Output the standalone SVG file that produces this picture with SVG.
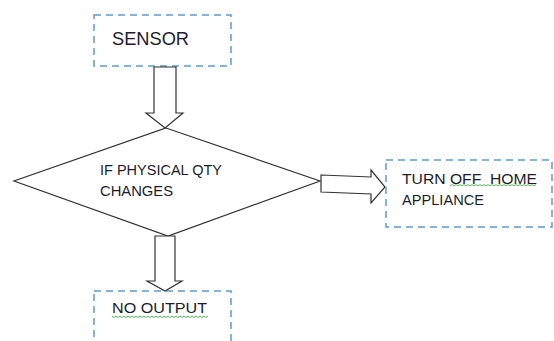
<svg xmlns="http://www.w3.org/2000/svg" width="554" height="341" viewBox="0 0 554 341">
<style>
.box{fill:#fff;stroke:#5b9bd5;stroke-width:1.5;stroke-dasharray:7 5}
.shape{fill:#fff;stroke:#333;stroke-width:1.2;stroke-linejoin:miter}
.t{font-family:"Liberation Sans",Arial,sans-serif;fill:#1c1c2c;font-size:14px}
.sq{fill:none;stroke:#3cb043;stroke-width:0.9}
</style>
<rect width="554" height="341" fill="#fff"/>
<g id="sensor">
<rect class="box" x="94" y="15" width="137" height="51"/>
<text class="t" x="112" y="45" style="font-size:17.5px" textLength="77" lengthAdjust="spacingAndGlyphs">SENSOR</text>
</g>
<g id="decision">
<polygon class="shape" points="166,128 320,181 168,236 14,181"/>
<text class="t" x="100" y="175" textLength="122" lengthAdjust="spacingAndGlyphs">IF PHYSICAL QTY</text>
<text class="t" x="100" y="196" textLength="73" lengthAdjust="spacingAndGlyphs">CHANGES</text>
</g>
<g id="turnoff">
<rect class="box" x="386" y="160" width="166" height="67"/>
<text class="t" x="402" y="184" textLength="135" lengthAdjust="spacingAndGlyphs" xml:space="preserve">TURN OFF  HOME</text>
<text class="t" x="402" y="205" textLength="82" lengthAdjust="spacingAndGlyphs">APPLIANCE</text>
<path class="sq" d="M450,186 l2,-1.5 l2,1.5 l2,-1.5 l2,1.5 l2,-1.5 l2,1.5 l2,-1.5 l2,1.5 l2,-1.5 l2,1.5 l2,-1.5 l2,1.5 l2,-1.5 l2,1.5 l2,-1.5 l2,1.5 l2,-1.5 l2,1.5 l2,-1.5 l2,1.5 l2,-1.5 l2,1.5 l2,-1.5 l2,1.5 l2,-1.5 l2,1.5 l2,-1.5 l2,1.5 l2,-1.5 l2,1.5 l2,-1.5 l2,1.5 l2,-1.5 l2,1.5 l2,-1.5 l2,1.5 l2,-1.5 l2,1.5 l2,-1.5 l2,1.5 l2,-1.5 l2,1.5 l2,-1.5"/>
</g>
<g id="nooutput">
<rect class="box" x="94" y="291" width="137" height="60"/>
<text class="t" x="112" y="313" style="font-size:14.5px" textLength="95" lengthAdjust="spacingAndGlyphs">NO OUTPUT</text>
<path class="sq" d="M112,316 l2,1.5 l2,-1.5 l2,1.5 l2,-1.5 l2,1.5 l2,-1.5 l2,1.5 l2,-1.5 l2,1.5 l2,-1.5 l2,1.5 l2,-1.5 l2,1.5 l2,-1.5 l2,1.5 l2,-1.5 l2,1.5 l2,-1.5 l2,1.5 l2,-1.5 l2,1.5 l2,-1.5 l2,1.5 l2,-1.5 l2,1.5 l2,-1.5 l2,1.5 l2,-1.5 l2,1.5 l2,-1.5 l2,1.5 l2,-1.5 l2,1.5 l2,-1.5 l2,1.5 l2,-1.5 l2,1.5 l2,-1.5 l2,1.5 l2,-1.5 l2,1.5 l2,-1.5 l2,1.5 l2,-1.5 l2,1.5 l2,-1.5 l2,1.5 l2,-1.5"/>
</g>
<g id="connectors">
<polygon class="shape" points="154,67 176,67 176,113 183,113 165,128 146,113 154,113"/>
<polygon class="shape" points="155,236 175,236 175,281 182,281 165,291 147,281 155,281"/>
<polygon class="shape" points="321,175 371,177 371,170 385,187 371,203 371,194 321,192"/>
</g>
</svg>
